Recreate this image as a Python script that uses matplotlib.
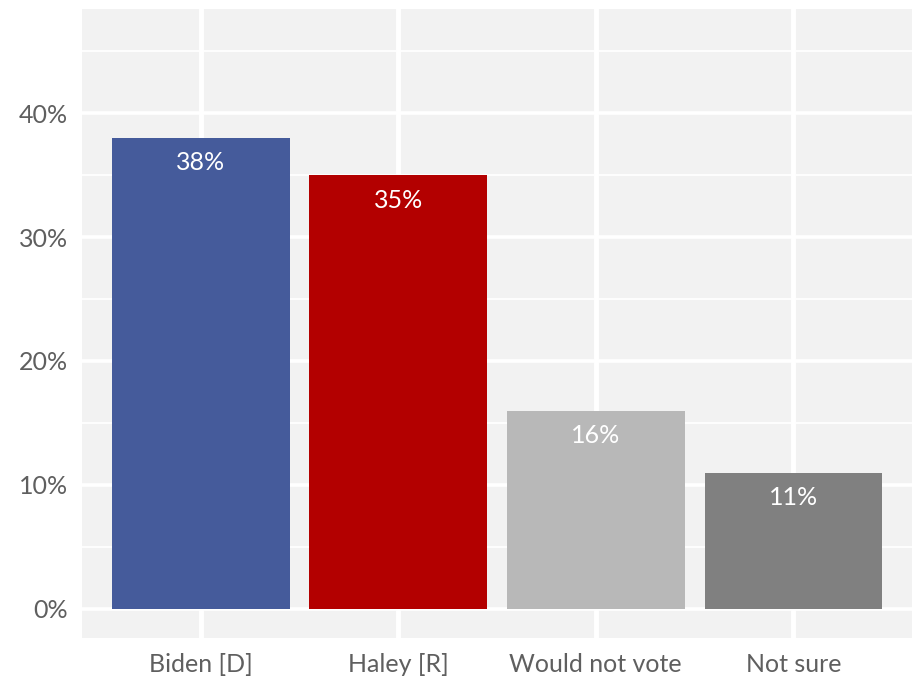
import matplotlib
matplotlib.use("Agg")
import matplotlib.pyplot as plt
from matplotlib.ticker import FuncFormatter, MultipleLocator

categories = ["Biden [D]", "Haley [R]", "Would not vote", "Not sure"]
values = [38, 35, 16, 11]
colors = ["#455B9B", "#B30000", "#B8B8B8", "#808080"]

plt.rcParams['font.family'] = ['Lato', 'DejaVu Sans']

fig = plt.figure(figsize=(9.16, 6.78), dpi=100)
ax = fig.add_axes([82/916, 1-638/678, (912-82)/916, (638-9)/678])
ax.set_facecolor("#F2F2F2")
for s in ax.spines.values():
    s.set_visible(False)

x = list(range(len(categories)))
bars = ax.bar(x, values, width=0.9, color=colors, zorder=3)
for xi, v in zip(x, values):
    ax.annotate(f"{v}%", (xi, v), xytext=(0, -18), textcoords="offset points",
                ha="center", va="center", color="white", fontsize=18, zorder=4)

ax.set_xlim(-0.6, len(categories) - 0.4)
ax.set_ylim(-2.35, 48.4)
ax.yaxis.set_major_locator(MultipleLocator(10))
ax.yaxis.set_minor_locator(MultipleLocator(5))
ax.yaxis.set_major_formatter(FuncFormatter(lambda v, p: f"{v:.0f}%"))
ax.set_xticks(x)
ax.set_xticklabels(categories)
ax.grid(True, which="major", axis="y", color="white", linewidth=2.6, zorder=1)
ax.grid(True, which="minor", axis="y", color="white", linewidth=1.3, zorder=1)
ax.grid(True, which="major", axis="x", color="white", linewidth=3.5, zorder=1)
ax.tick_params(axis="both", which="both", length=0, labelsize=18, colors="#5F5F5F", pad=10)
ax.tick_params(axis="x", pad=11)

fig.savefig("out.png", dpi=100, facecolor="white")
